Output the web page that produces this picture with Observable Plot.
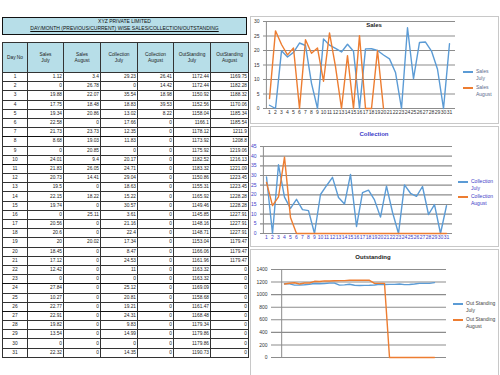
<!DOCTYPE html>
<html>
<head>
<meta charset="utf-8">
<script src="https://cdn.jsdelivr.net/npm/d3@7"></script>
<script src="https://cdn.jsdelivr.net/npm/@observablehq/plot@0.6"></script>
<style>
  body { margin: 0; background: #fff; }
  #root { position: relative; width: 500px; height: 375px; overflow: hidden; font-family: "Liberation Sans", Arial, sans-serif; }
  .abs { position: absolute; }
  #titlebox { left: 2px; top: 17px; width: 243px; height: 16px; background: #b7dee8; border: 1.5px solid #111; text-align: center; font-size: 5px; line-height: 7px; color: #111; }
  #titlebox span { text-decoration: underline; }
  table { border-collapse: collapse; table-layout: fixed; font-size: 4.8px; color: #222; }
  td, th { border: 0.8px solid #333; padding: 0 1px; overflow: hidden; white-space: nowrap; }
  th { background: #b7dee8; font-weight: normal; line-height: 6px; height: 29px; white-space: normal; }
  td { height: 8.2px; line-height: 8px; text-align: right; }
  td.day { text-align: center; }
  tr.thick td { border-bottom: 1.6px solid #111; }
  .chartbox { position: absolute; left: 250px; width: 247px; border: 1px solid #c8c8c8; background: #fff; }
  .ctitle { position: absolute; font-size: 6px; font-weight: bold; text-align: center; width: 80px; }
  .leg { position: absolute; font-size: 5px; line-height: 7px; }
  .leg i { position: absolute; left: 0; top: 3px; width: 10px; height: 1.5px; }
  .leg span { position: absolute; left: 13px; top: 0; white-space: nowrap; }
</style>
</head>
<body>
<div id="root"></div>
<script>
// ---------- data ----------
const companyTitle = "XYZ PRIVATE LIMITED";
const reportTitle = "DAY/MONTH (PREVIOUS/CURRENT) WISE SALES/COLLECTION/OUTSTANDING";
const headerLabels = [["Day No"], ["Sales", "July"], ["Sales", "August"], ["Collection", "July"], ["Collection", "August"], ["OutStanding", "July"], ["OutStanding", "August"]];
const days = [1,2,3,4,5,6,7,8,9,10,11,12,13,14,15,16,17,18,19,20,21,22,23,24,25,26,27,28,29,30,31];
const salesJuly = [1.12,0,19.88,17.75,19.34,22.58,21.73,8.68,0,24.01,21.83,20.73,19.5,22.15,19.74,0,20.56,20.6,20,18.45,17.12,12.42,0,27.84,10.27,22.77,22.91,19.82,13.54,0,22.32];
const salesAug = [3.4,26.78,22.07,18.48,20.86,0,23.73,19.03,20.85,9.4,26.05,14.41,0,18.22,0,25.11,0,0,20.02,0,0,0,0,0,0,0,0,0,0,0,0];
const collJuly = [29.23,0,35.54,18.83,13.02,17.66,12.35,11.83,0,20.17,24.71,29.04,18.63,15.22,30.57,3.61,21.16,22.4,17.34,8.47,24.53,11,0,25.12,20.81,19.21,24.31,9.83,14.99,0,14.35];
const collAug = [26.41,14.42,18.98,39.53,8.22,0,0,0,0,0,0,0,0,0,0,0,0,0,0,0,0,0,0,0,0,0,0,0,0,0,0];
const outJuly = [1172.44,1172.44,1150.92,1152.56,1158.04,1166.1,1178.12,1173.92,1175.92,1182.52,1183.32,1150.86,1155.31,1165.92,1149.46,1145.85,1148.16,1148.71,1153.04,1166.06,1161.96,1163.32,1163.32,1169.09,1158.68,1161.47,1168.48,1179.34,1179.86,1179.86,1190.73];
const outAug = [1169.75,1182.28,1188.32,1170.06,1185.34,1185.54,1211.9,1208.8,1219.06,1216.13,1221.09,1223.45,1223.45,1228.28,1228.28,1227.91,1227.91,1227.91,1179.47,1179.47,1179.47,0,0,0,0,0,0,0,0,0,0];
const salesAugChartLastDay = 20;
const thickRowsAfter = [7, 10, 23, 26];
const chartTitles = ["Sales", "Collection", "Outstanding"];
const legendNames = [["Sales", "July"], ["Sales", "August"], ["Collection", "July"], ["Collection", "August"], ["Out Standing", "July"], ["Out Standing", "August"]];
const salesTicks = [0,5,10,15,20,25,30];
const collTicks = [0,5,10,15,20,25,30,35,40,45];
const outTicks = [0,200,400,600,800,1000,1200,1400];
const BLUE = "#5b9bd5", ORANGE = "#ed7d31";

const root = document.getElementById("root");
function el(tag, cls, css, html) {
  const e = document.createElement(tag);
  if (cls) e.className = cls;
  if (css) Object.assign(e.style, css);
  if (html != null) e.innerHTML = html;
  return e;
}

// ---------- table ----------
const tb = el("div", "abs", {}, `${companyTitle}<br><span>${reportTitle}</span>`);
tb.id = "titlebox";
root.appendChild(tb);

const fmt = v => String(v);
const colW = [25, 36, 37, 37, 36, 37, 38];
const table = el("table", "abs", {left: "2px", top: "42px", width: "246px"});
const cg = document.createElement("colgroup");
colW.forEach(w => { const c = document.createElement("col"); c.style.width = w + "px"; cg.appendChild(c); });
table.appendChild(cg);
const htr = document.createElement("tr");
headerLabels.forEach(h => htr.appendChild(el("th", null, null, h.join("<br>"))));
table.appendChild(htr);
days.forEach((d, i) => {
  const tr = document.createElement("tr");
  if (thickRowsAfter.includes(d)) tr.className = "thick";
  tr.appendChild(el("td", "day", null, d));
  [salesJuly, salesAug, collJuly, collAug, outJuly, outAug].forEach(arr => tr.appendChild(el("td", null, null, fmt(arr[i]))));
  table.appendChild(tr);
});
root.appendChild(table);

// ---------- charts ----------
function toRows(vals, series) { return days.map((d, i) => ({day: d, value: vals[i], series})); }

function lineChart({top, height, mt, mb, ml, mr, domain, ticks, a, b, color, showX}) {
  const box = el("div", "chartbox", {top: top + "px", height: (height - 2) + "px"});
  root.appendChild(box);
  const svg = Plot.plot({
    width: 248, height,
    marginTop: mt, marginBottom: mb, marginLeft: ml, marginRight: mr,
    style: {fontSize: "5px", fontFamily: "Liberation Sans, Arial, sans-serif", color, background: "transparent", overflow: "visible"},
    x: {type: "point", domain: days, padding: 0.5, label: null, tickSize: 0, tickPadding: 2, axis: showX ? "bottom" : null},
    y: {domain, ticks, label: null, tickSize: 0, tickPadding: 4, tickFormat: d => String(d)},
    marks: [
      Plot.ruleY(ticks, {stroke: "#8c8c8c", strokeWidth: 1.1}),
      Plot.ruleX([days[0]], {stroke: "#8c8c8c", dx: -((248 - ml - mr) / 31) / 2}),
      Plot.line(a, {x: "day", y: "value", stroke: BLUE, strokeWidth: 1.4}),
      Plot.line(b, {x: "day", y: "value", stroke: ORANGE, strokeWidth: 1.4})
    ]
  });
  svg.style.position = "absolute";
  svg.style.left = "250px";
  svg.style.top = top + "px";
  root.appendChild(svg);
}

lineChart({top: 16, height: 108, mt: 5, mb: 16, ml: 13, mr: 43, domain: [0, 30], ticks: salesTicks,
  a: toRows(salesJuly, "July"), b: toRows(salesAug, "August").filter(r => r.day <= salesAugChartLastDay), color: "#333", showX: true});
lineChart({top: 126, height: 121, mt: 20, mb: 14, ml: 10, mr: 46, domain: [0, 45], ticks: collTicks,
  a: toRows(collJuly, "July"), b: toRows(collAug, "August"), color: "#3c3cc8", showX: true});
lineChart({top: 249, height: 127, mt: 20, mb: 19, ml: 21, mr: 52, domain: [0, 1400], ticks: outTicks,
  a: toRows(outJuly, "July"), b: toRows(outAug, "August"), color: "#333", showX: false});

// titles
[[chartTitles[0], 334, 22, "#222"], [chartTitles[1], 334, 131, "#3c3cc8"], [chartTitles[2], 333, 254, "#222"]].forEach(([t, x, y, c]) => {
  root.appendChild(el("div", "ctitle", {left: x + "px", top: y + "px", color: c}, t));
});

// legends
const legs = [
  [legendNames[0], BLUE, 463, 68, "#5a6b8c"], [legendNames[1], ORANGE, 463, 84, "#5a6b8c"],
  [legendNames[2], BLUE, 458, 178, "#3c3cc8"], [legendNames[3], ORANGE, 458, 193, "#3c3cc8"],
  [legendNames[4], BLUE, 453, 300, "#444"], [legendNames[5], ORANGE, 453, 316, "#444"]
];
legs.forEach(([n, col, x, y, tc]) => {
  const d = el("div", "leg", {left: x + "px", top: y + "px", color: tc});
  d.appendChild(el("i", null, {background: col}));
  d.appendChild(el("span", null, null, n.join("<br>")));
  root.appendChild(d);
});
</script>
</body>
</html>
